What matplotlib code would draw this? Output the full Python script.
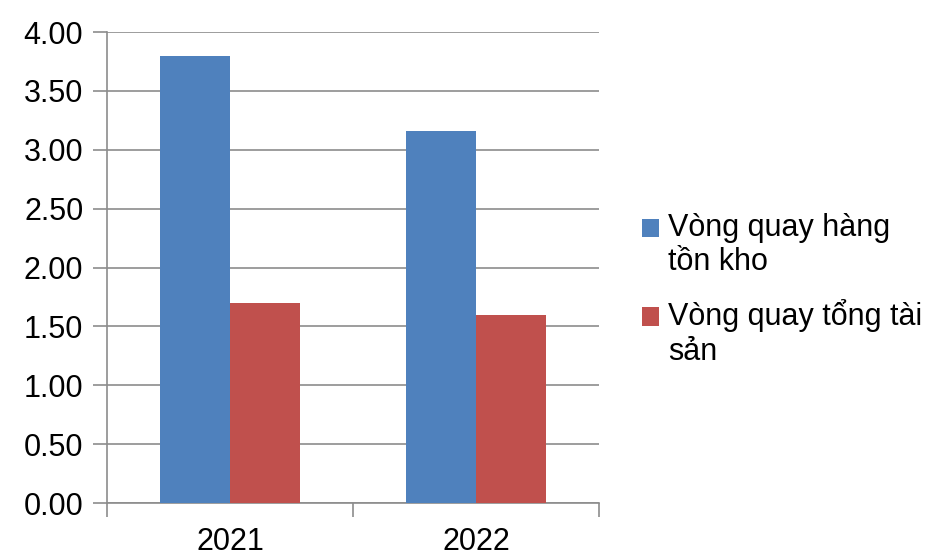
import numpy as np
import matplotlib.pyplot as plt
from matplotlib.ticker import FixedLocator, FormatStrFormatter

years = ["2021", "2022"]
inventory_turnover = [3.80, 3.16]
asset_turnover = [1.70, 1.60]
series_labels = ["Vòng quay hàng\ntồn kho", "Vòng quay tổng tài\nsản"]

plt.rcParams["font.family"] = ["Liberation Sans", "DejaVu Sans"]

fig = plt.figure(figsize=(9.4, 5.54), dpi=100)
ax = fig.add_axes([0.1138, 0.092, 0.5234, 0.85])

x = np.arange(len(years))
width = 0.285
ax.bar(x - width / 2, inventory_turnover, width, color="#4F81BD", label=series_labels[0], zorder=3)
ax.bar(x + width / 2, asset_turnover, width, color="#C0504D", label=series_labels[1], zorder=3)

ax.set_xlim(-0.5, len(years) - 0.5)
ax.set_ylim(0, 4.0)
ax.set_yticks(np.arange(0, 4.01, 0.5))
ax.yaxis.set_major_formatter(FormatStrFormatter("%.2f"))
ax.grid(axis="y", color="#8c8c8c", lw=1.2, zorder=0)

ax.set_xticks(x)
ax.set_xticklabels(years)
ax.xaxis.set_minor_locator(FixedLocator(np.arange(-0.5, len(years), 1.0)))
ax.tick_params(axis="x", which="major", length=0, pad=17, labelsize=22)
ax.tick_params(axis="x", which="minor", length=10, width=1.2, color="#8c8c8c")
ax.tick_params(axis="y", length=10, width=1.2, color="#8c8c8c", pad=7, labelsize=22)

for side in ["top", "right"]:
    ax.spines[side].set_visible(False)
for side in ["left", "bottom"]:
    ax.spines[side].set_color("#8c8c8c")
    ax.spines[side].set_linewidth(1.2)

leg = ax.legend(loc="center left", bbox_to_anchor=(1.0, 0.453), frameon=False, fontsize=22,
                handlelength=0.55, handleheight=0.55, handletextpad=0.3, labelspacing=0.72,
                borderaxespad=1.0)
# keep the colour squares level with the first line of each wrapped label
for patch in leg.get_patches():
    patch.set_y(patch.get_y() + 12.5)

fig.savefig("out.png", dpi=100, facecolor="white")
